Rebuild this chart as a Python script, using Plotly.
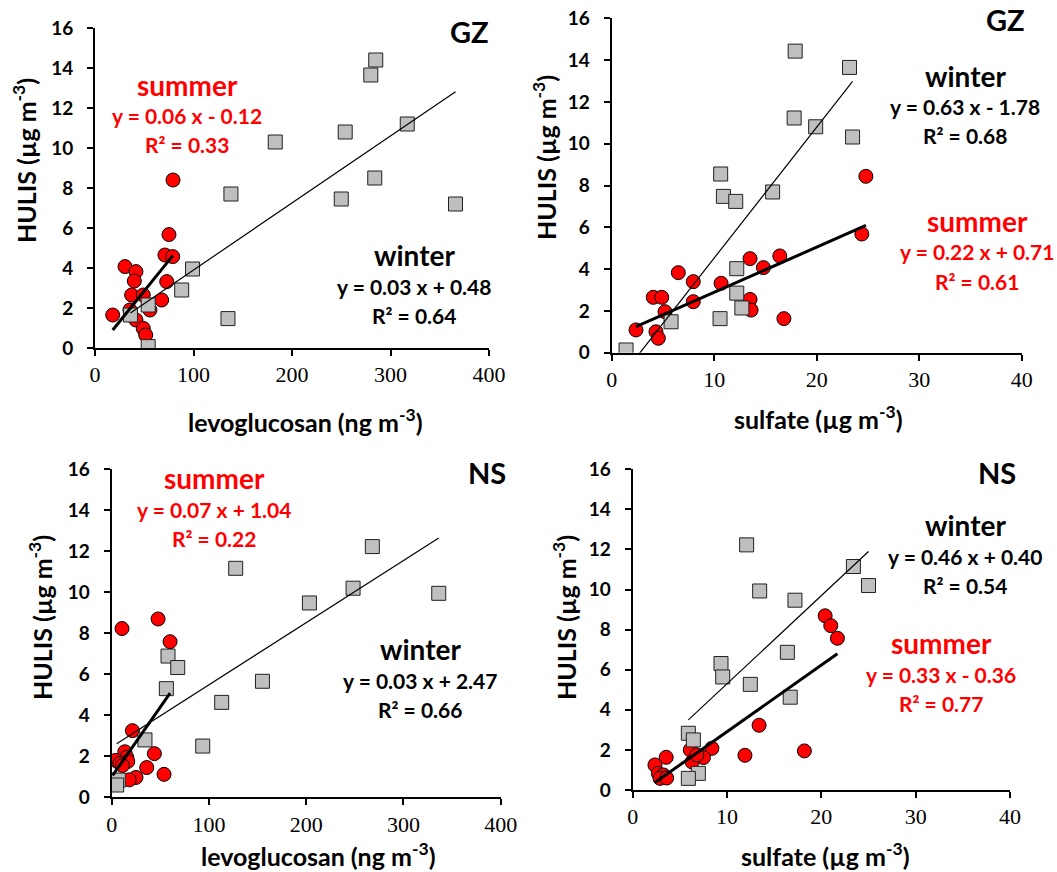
import plotly.graph_objects as go

# ---------------- data ----------------
# Panel 1: GZ, levoglucosan vs HULIS
gz_lev_winter_x = [285, 280, 317, 254, 183, 284, 250, 366, 138, 99, 88, 54, 36, 135, 54]
gz_lev_winter_y = [14.4, 13.65, 11.2, 10.8, 10.3, 8.5, 7.45, 7.2, 7.7, 3.95, 2.9, 2.15, 1.65, 1.47, 0.07]
gz_lev_summer_x = [79.2, 75.1, 71, 78.9, 30.5, 41.6, 39.9, 72.8, 37.2, 49, 67.7, 35.5, 18, 41.6, 49, 51.5, 55.8]
gz_lev_summer_y = [8.4, 5.67, 4.65, 4.57, 4.07, 3.82, 3.35, 3.32, 2.65, 2.65, 2.4, 1.9, 1.65, 1.4, 0.98, 0.65, 1.9]

# Panel 2: GZ, sulfate vs HULIS
gz_sul_winter_x = [17.9, 23.2, 17.8, 19.9, 23.5, 10.63, 10.9, 12.1, 15.7, 12.2, 12.2, 12.7, 10.57, 5.79, 1.4]
gz_sul_winter_y = [14.43, 13.65, 11.23, 10.81, 10.32, 8.55, 7.48, 7.24, 7.69, 4.02, 2.85, 2.14, 1.63, 1.48, 0.13]
gz_sul_summer_x = [24.8, 24.4, 16.4, 13.5, 14.8, 6.5, 7.96, 10.67, 4.06, 4.88, 7.96, 13.5, 13.6, 5.2, 16.8, 2.37, 4.32, 4.55]
gz_sul_summer_y = [8.44, 5.68, 4.63, 4.5, 4.07, 3.83, 3.4, 3.32, 2.65, 2.65, 2.44, 2.55, 2.04, 1.96, 1.63, 1.09, 1.0, 0.69]

# Panel 3: NS, levoglucosan vs HULIS
ns_lev_winter_x = [268, 127.5, 248.2, 336.3, 203.3, 57.9, 67.9, 56.2, 155, 113.1, 93.6, 34.2, 6.8, 5.1]
ns_lev_winter_y = [12.23, 11.17, 10.2, 9.95, 9.48, 6.89, 6.33, 5.3, 5.66, 4.63, 2.5, 2.8, 0.84, 0.6]
ns_lev_summer_x = [10.6, 47.7, 60, 21.3, 43.9, 13.5, 15.5, 16.5, 4, 8.5, 11, 36, 53.8, 25, 18, 1, 5]
ns_lev_summer_y = [8.23, 8.7, 7.59, 3.25, 2.13, 2.22, 1.95, 1.75, 1.8, 1.65, 1.55, 1.45, 1.12, 0.97, 0.85, 0.73, 0.62]

# Panel 4: NS, sulfate vs HULIS
ns_sul_winter_x = [12.08, 23.4, 25.0, 13.46, 17.2, 16.4, 9.36, 9.54, 12.47, 16.7, 5.9, 6.43, 6.96, 5.9]
ns_sul_winter_y = [12.23, 11.15, 10.2, 9.93, 9.47, 6.87, 6.31, 5.64, 5.27, 4.63, 2.83, 2.5, 0.83, 0.58]
ns_sul_summer_x = [20.4, 21.0, 21.7, 13.4, 8.4, 18.2, 11.9, 7.5, 6.1, 6.3, 6.8, 3.55, 2.36, 2.72, 3.25, 2.9, 3.6]
ns_sul_summer_y = [8.69, 8.2, 7.57, 3.23, 2.08, 1.95, 1.73, 1.62, 2.0, 1.4, 1.75, 1.63, 1.25, 0.83, 0.75, 0.58, 0.6]

# trendline coefficients (slope, intercept)
fit_winter = [(0.0335, 0.55), (0.626, -1.73), (0.0303, 2.46), (0.44, 0.9)]
fit_summer = [(0.061, -0.2), (0.216, 0.73), (0.068, 1.0), (0.332, -0.41)]

# labels
site_labels = ["GZ", "GZ", "NS", "NS"]
winter_eq = ["y = 0.03 x + 0.48", "y = 0.63 x - 1.78", "y = 0.03 x + 2.47", "y = 0.46 x + 0.40"]
winter_r2 = ["R² = 0.64", "R² = 0.68", "R² = 0.66", "R² = 0.54"]
summer_eq = ["y = 0.06 x - 0.12", "y = 0.22 x + 0.71", "y = 0.07 x + 1.04", "y = 0.33 x - 0.36"]
summer_r2 = ["R² = 0.33", "R² = 0.61", "R² = 0.22", "R² = 0.77"]
x_titles = ["levoglucosan (ng m<sup>-3</sup>)", "sulfate (µg m<sup>-3</sup>)",
            "levoglucosan (ng m<sup>-3</sup>)", "sulfate (µg m<sup>-3</sup>)"]
y_title = "HULIS (µg m<sup>-3</sup>)"
x_ranges = [[0, 400], [0, 40], [0, 400], [0, 40]]
x_dticks = [100, 10, 100, 10]
y_range = [0, 16]

panels = [
    (gz_lev_winter_x, gz_lev_winter_y, gz_lev_summer_x, gz_lev_summer_y),
    (gz_sul_winter_x, gz_sul_winter_y, gz_sul_summer_x, gz_sul_summer_y),
    (ns_lev_winter_x, ns_lev_winter_y, ns_lev_summer_x, ns_lev_summer_y),
    (ns_sul_winter_x, ns_sul_winter_y, ns_sul_summer_x, ns_sul_summer_y),
]

# ---------------- layout geometry (pixels) ----------------
W, H = 1057, 872
# (x0, x1, ytop, ybottom) of plot areas
boxes = [(95, 489, 28, 348), (611.7, 1021.7, 18.3, 352.7),
         (111.7, 500.7, 469.3, 797.3), (632.7, 1010, 469.3, 790)]

def px(x):
    return x / W

def py(y):
    return 1 - y / H

RED = "#FF0000"
GRAY = "#BFBFBF"
FONT = "Lato"
SERIF = "Liberation Serif, Times New Roman, serif"

fig = go.Figure()
layout = dict(width=W, height=H, margin=dict(l=0, r=0, t=0, b=0, pad=0),
              paper_bgcolor="white", plot_bgcolor="white", showlegend=False)

for i, (wx, wy, sx, sy) in enumerate(panels):
    n = "" if i == 0 else str(i + 1)
    xa, ya = "x" + n, "y" + n
    # summer circles
    fig.add_trace(go.Scatter(x=sx, y=sy, mode="markers", xaxis=xa, yaxis=ya,
                             marker=dict(symbol="circle", size=14, color=RED,
                                         line=dict(color="black", width=1))))
    # winter squares
    fig.add_trace(go.Scatter(x=wx, y=wy, mode="markers", xaxis=xa, yaxis=ya,
                             marker=dict(symbol="square", size=14, color=GRAY,
                                         line=dict(color="#202020", width=1))))
    # trendlines
    for (xs, coef, lw) in ((wx, fit_winter[i], 1.2), (sx, fit_summer[i], 3)):
        xl = [min(xs), max(xs)]
        yl = [coef[0] * v + coef[1] for v in xl]
        fig.add_trace(go.Scatter(x=xl, y=yl, mode="lines", xaxis=xa, yaxis=ya,
                                 line=dict(color="black", width=lw)))
    x0, x1, yt, yb = boxes[i]
    common = dict(showgrid=False, zeroline=False, showline=True, linecolor="black",
                  linewidth=2, ticks="outside", ticklen=6, tickwidth=2, tickcolor="black",
                  automargin=False)
    layout["xaxis" + n] = dict(domain=[px(x0), px(x1)], range=x_ranges[i], dtick=x_dticks[i],
                               anchor=ya, tickfont=dict(family=SERIF, size=22, color="black"),
                               ticklabelstandoff=0, **common)
    layout["yaxis" + n] = dict(domain=[py(yb), py(yt)], range=y_range, dtick=2, anchor=xa,
                               tickfont=dict(family=FONT, size=19, color="black", weight="bold"),
                               ticklabelstandoff=10, **common)

fig.update_layout(**layout)

# ---------------- annotations ----------------
ann = []

def add(text, x, y, size, color="black", angle=0):
    ann.append(dict(text=text, x=px(x), y=py(y), xref="paper", yref="paper",
                    showarrow=False, xanchor="center", yanchor="middle", textangle=angle,
                    font=dict(family=FONT, size=size, color=color, weight="bold")))

site_pos = [(469, 31), (1005, 20), (487, 472), (997, 472)]
summer_pos = [(187, 85), (977, 221), (214, 478), (941, 643)]
winter_pos = [(414, 255), (965, 76), (420, 649), (965, 525)]
xtitle_pos = [(305, 420), (818, 418), (318, 854), (825, 854)]
ytitle_pos = [(25, 161), (545, 158), (40, 618), (564, 618)]

for i in range(4):
    add(site_labels[i], *site_pos[i], 29)
    sxp, syp = summer_pos[i]
    add("summer", sxp, syp, 28, RED)
    add(summer_eq[i], sxp, syp + 31, 21, RED)
    add(summer_r2[i], sxp, syp + 60, 21, RED)
    wxp, wyp = winter_pos[i]
    add("winter", wxp, wyp, 28)
    add(winter_eq[i], wxp, wyp + 31, 21)
    add(winter_r2[i], wxp, wyp + 60, 21)
    add(x_titles[i], *xtitle_pos[i], 25)
    add(y_title, *ytitle_pos[i], 25, angle=-90)

fig.update_layout(annotations=ann)
fig.write_html("out.html", config={"displayModeBar": False},
               post_script="document.body.style.margin='0';document.body.style.overflow='hidden';")
